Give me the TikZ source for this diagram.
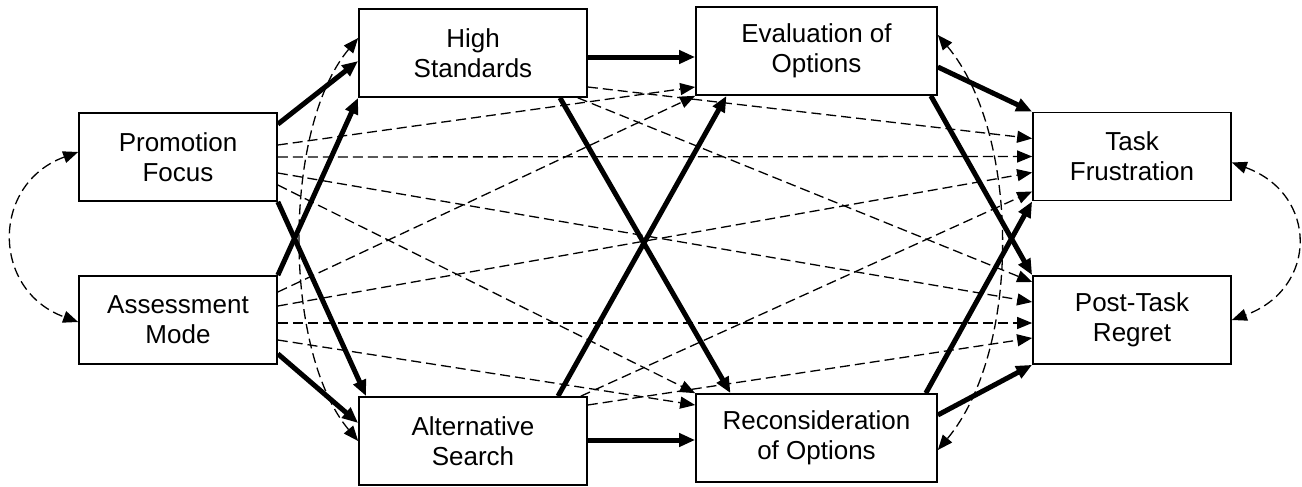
\documentclass[tikz,border=0pt]{standalone}
\usepackage{fontspec}
\setmainfont{Liberation Sans}
\usetikzlibrary{arrows.meta,calc}

\begin{document}
\begin{tikzpicture}[x=0.5pt,y=-0.5pt,
        box/.style={draw, line width=0.85pt, align=center, minimum height=44pt, inner sep=2pt, font=\fontsize{13}{15}\selectfont},
        strong/.style={line width=2.5pt, -{Triangle[length=8pt,width=6.5pt]}},
        weak/.style={line width=0.65pt, dash pattern=on 5pt off 2.5pt, -{Triangle[length=7.5pt,width=6pt]}},
        covary/.style={weak, {Triangle[length=7.5pt,width=6pt]}-{Triangle[length=7.5pt,width=6pt]}}]
        \useasboundingbox (0,0) rectangle (1302,487);

        \node[box, minimum width=99pt] (pf) at (178,157) {Promotion\\Focus};
        \node[box, minimum width=99pt] (am) at (178,320) {Assessment\\Mode};
        \node[box, minimum width=114pt] (hs) at (473,53) {High\\Standards};
        \node[box, minimum width=114pt] (as) at (473,441) {Alternative\\Search};
        \node[box, minimum width=120.5pt] (eo) at (816.5,51) {Evaluation of\\Options};
        \node[box, minimum width=120.5pt] (ro) at (816.5,438) {Reconsideration\\of Options};
        \node[box, minimum width=99pt] (tf) at (1132,156.5) {Task\\Frustration};
        \node[box, minimum width=99pt] (pt) at (1132,320) {Post-Task\\Regret};

        \draw[strong] ([yshift=-6pt]pf.north east) -- ([yshift=-4pt]hs.west);
        \draw[strong] (am.north east) -- (hs.south west);
        \draw[strong] (pf.south east) -- ([xshift=4pt]as.north west);
        \draw[strong] ([yshift=5.5pt]am.south east) -- ([yshift=9pt]as.west);
        \draw[strong] ([yshift=-2pt]hs.east) -- ([yshift=-3pt]eo.west);
        \draw[strong] ([xshift=43.5pt]hs.south) -- ([xshift=-43pt]ro.north);
        \draw[strong] ([xshift=42.5pt]as.north) -- ([xshift=-45pt]eo.south);
        \draw[strong] ([yshift=0.5pt]as.east) -- ([yshift=-1pt]ro.west);
        \draw[strong] ([yshift=-8pt]eo.east) -- (tf.north west);
        \draw[strong] ([xshift=-3.5pt]eo.south east) -- (pt.north west);
        \draw[strong] ([xshift=-6pt]ro.north east) -- (tf.south west);
        \draw[strong] ([yshift=11.5pt]ro.east) -- (pt.south west);

        \draw[weak] ([yshift=6pt]pf.east) -- ([yshift=-18pt]eo.west);
        \draw[weak] (pf.east) -- (tf.west);
        \draw[weak] ([yshift=-8pt]pf.east) -- ([yshift=9pt]pt.west);
        \draw[weak] ([yshift=-14pt]pf.east) -- (ro.north west);
        \draw[weak] ([yshift=14pt]am.east) -- (eo.south west);
        \draw[weak] ([yshift=7pt]am.east) -- ([yshift=-8pt]tf.west);
        \draw[weak] ([yshift=-1.5pt]am.east) -- ([yshift=-1.5pt]pt.west);
        \draw[weak] ([yshift=-10pt]am.east) -- ([yshift=16.5pt]ro.west);
        \draw[weak] ([yshift=-17pt]hs.east) -- ([yshift=9pt]tf.west);
        \draw[weak] ([xshift=-5pt]hs.south east) -- ([yshift=19pt]pt.west);
        \draw[weak] ([xshift=-3.5pt]as.north east) -- ([yshift=-17.5pt]tf.west);
        \draw[weak] ([yshift=18pt]as.east) -- ([yshift=-9pt]pt.west);

        \draw[covary] ([yshift=2.5pt]pf.west) to[out=200,in=160,looseness=1.4] ([yshift=-1pt]am.west);
        \draw[covary] ([yshift=-3pt]tf.east) to[out=-20,in=20,looseness=1.5] (pt.east);
        \draw[covary] ([yshift=7.5pt]hs.west) to[out=230,in=130,looseness=0.75] (as.west);
        \draw[covary] ([yshift=8pt]eo.east) to[out=-50,in=50,looseness=0.8] ([yshift=-6pt]ro.east);
\end{tikzpicture}
\end{document}
